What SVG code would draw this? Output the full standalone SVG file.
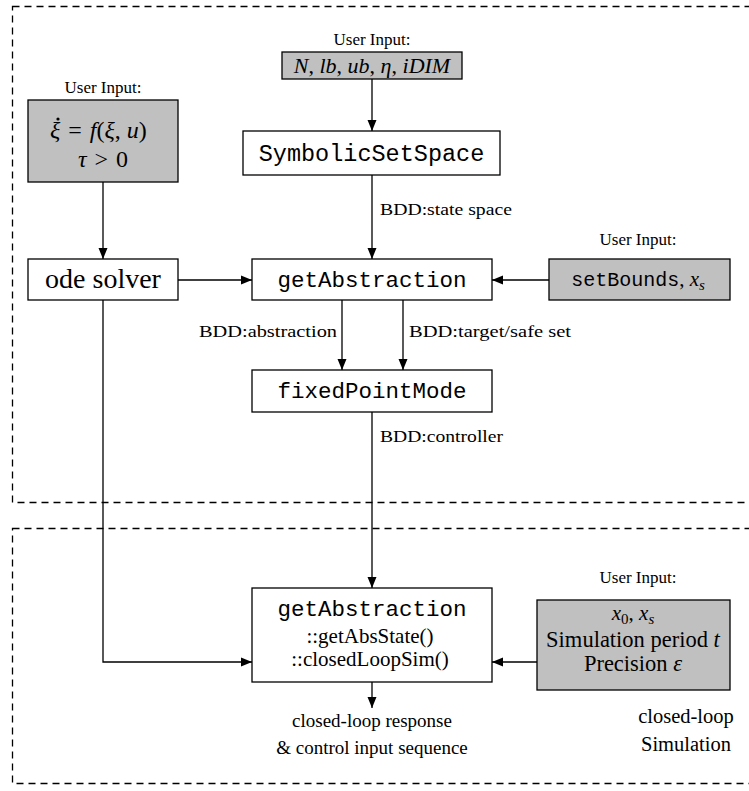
<svg xmlns="http://www.w3.org/2000/svg" width="749" height="791" viewBox="0 0 749 791">
<defs>
<marker id="ah" viewBox="0 0 11 10" refX="11" refY="5" markerWidth="11" markerHeight="10" markerUnits="userSpaceOnUse" orient="auto">
<path d="M0,0.5 L11,5 L0,9.5 Z" fill="#000"/>
</marker>
<style>
.frame{fill:none;stroke:#000;stroke-width:1.3;stroke-dasharray:7,5}
.box{fill:#fff;stroke:#000;stroke-width:1.3}
.gbox{fill:#c0c0c0;stroke:#000;stroke-width:1.3}
.edge{fill:none;stroke:#000;stroke-width:1.3;marker-end:url(#ah)}
.rm{font-family:"Liberation Serif",serif;fill:#000}
.it{font-family:"Liberation Serif",serif;font-style:italic;fill:#000}
.tt{font-family:"Liberation Mono",monospace;fill:#000}
.ui{font-size:17px}
.lbl{font-size:17.5px}
</style>
</defs>
<rect class="frame" x="12.5" y="6.5" width="760" height="496"/>
<rect class="frame" x="12.5" y="528.5" width="760" height="255"/>

<g id="connectors">
<line class="edge" x1="372" y1="79" x2="372" y2="131"/>
<line class="edge" x1="103" y1="182" x2="103" y2="259"/>
<line class="edge" x1="372" y1="175" x2="372" y2="259"/>
<line class="edge" x1="178" y1="280" x2="252" y2="280"/>
<line class="edge" x1="549" y1="280" x2="492" y2="280"/>
<line class="edge" x1="342" y1="300" x2="342" y2="370"/>
<line class="edge" x1="403" y1="300" x2="403" y2="370"/>
<line class="edge" x1="372" y1="412" x2="372" y2="588"/>
<polyline class="edge" points="103,300 103,662 252,662"/>
<line class="edge" x1="537" y1="662" x2="492" y2="662"/>
<line class="edge" x1="372" y1="682" x2="372" y2="708"/>
<text class="rm lbl" x="380" y="215" textLength="132" lengthAdjust="spacingAndGlyphs">BDD:state space</text>
<text class="rm lbl" x="199" y="337" textLength="138" lengthAdjust="spacingAndGlyphs">BDD:abstraction</text>
<text class="rm lbl" x="409" y="337" textLength="162" lengthAdjust="spacingAndGlyphs">BDD:target/safe set</text>
<text class="rm lbl" x="380" y="442" textLength="123" lengthAdjust="spacingAndGlyphs">BDD:controller</text>
</g>

<g id="input-top">
<text class="rm ui" x="372" y="45" text-anchor="middle">User Input:</text>
<rect class="gbox" x="282" y="52" width="180" height="27"/>
<text class="it" x="372" y="73" font-size="22" text-anchor="middle">N<tspan class="rm" font-style="normal">, </tspan>lb<tspan font-style="normal">, </tspan>ub<tspan font-style="normal">, </tspan>η<tspan font-style="normal">, </tspan>iDIM</text>
</g>

<g id="input-left">
<text class="rm ui" x="103" y="93" text-anchor="middle">User Input:</text>
<rect class="gbox" x="28" y="100" width="150" height="82"/>
<text class="it" x="50" y="138" font-size="24">ξ<tspan font-style="normal" dx="8">=</tspan><tspan dx="8">f</tspan><tspan font-style="normal">(</tspan>ξ<tspan font-style="normal">, </tspan>u<tspan font-style="normal">)</tspan></text>
<circle cx="58" cy="119" r="1.6" fill="#000"/>
<text class="it" x="103" y="167" font-size="24" text-anchor="middle">τ<tspan font-style="normal" dx="8">&gt;</tspan><tspan font-style="normal" dx="8">0</tspan></text>
</g>

<g id="symbolic-set-space">
<rect class="box" x="243" y="131" width="257" height="44"/>
<text class="tt" x="371.5" y="161" font-size="23.5" text-anchor="middle">SymbolicSetSpace</text>
</g>

<g id="ode-solver">
<rect class="box" x="28" y="259" width="150" height="41"/>
<text class="rm" x="103" y="288" font-size="28" text-anchor="middle">ode solver</text>
</g>

<g id="get-abstraction">
<rect class="box" x="252" y="259" width="240" height="41"/>
<text class="tt" x="372" y="287" font-size="22.5" text-anchor="middle">getAbstraction</text>
</g>

<g id="input-right">
<text class="rm ui" x="638" y="245" text-anchor="middle">User Input:</text>
<rect class="gbox" x="549" y="259" width="181" height="41"/>
<text x="638" y="286" text-anchor="middle"><tspan class="tt" font-size="20">setBounds</tspan><tspan class="rm" font-size="21">, </tspan><tspan class="it" font-size="21">x</tspan><tspan class="it" font-size="15" dy="4">s</tspan></text>
</g>

<g id="fixed-point-mode">
<rect class="box" x="252" y="370" width="240" height="42"/>
<text class="tt" x="372" y="398" font-size="22.5" text-anchor="middle">fixedPointMode</text>
</g>

<g id="get-abstraction-sim">
<rect class="box" x="252" y="588" width="240" height="94"/>
<text class="tt" x="372" y="616" font-size="22.5" text-anchor="middle">getAbstraction</text>
<text class="rm" x="370" y="643" font-size="21" text-anchor="middle">::getAbsState()</text>
<text class="rm" x="370" y="666" font-size="21" text-anchor="middle">::closedLoopSim()</text>
</g>

<g id="input-sim">
<text class="rm ui" x="638" y="583" text-anchor="middle">User Input:</text>
<rect class="gbox" x="537" y="600" width="193" height="90"/>
<text x="633" y="620" text-anchor="middle"><tspan class="it" font-size="21">x</tspan><tspan class="rm" font-size="15" dy="4">0</tspan><tspan class="rm" font-size="21" dy="-4">, </tspan><tspan class="it" font-size="21">x</tspan><tspan class="it" font-size="15" dy="4">s</tspan></text>
<text x="633" y="647" text-anchor="middle" font-size="22.5"><tspan class="rm">Simulation period </tspan><tspan class="it">t</tspan></text>
<text x="633" y="671" text-anchor="middle" font-size="22.5"><tspan class="rm">Precision </tspan><tspan class="it">ε</tspan></text>
</g>

<g id="output">
<text class="rm" x="372" y="727" font-size="19" text-anchor="middle">closed-loop response</text>
<text class="rm" x="372" y="754" font-size="19" text-anchor="middle">&amp; control input sequence</text>
</g>

<g id="section-label">
<text class="rm" x="686" y="723" font-size="20.5" text-anchor="middle">closed-loop</text>
<text class="rm" x="686" y="751" font-size="20.5" text-anchor="middle">Simulation</text>
</g>
</svg>
